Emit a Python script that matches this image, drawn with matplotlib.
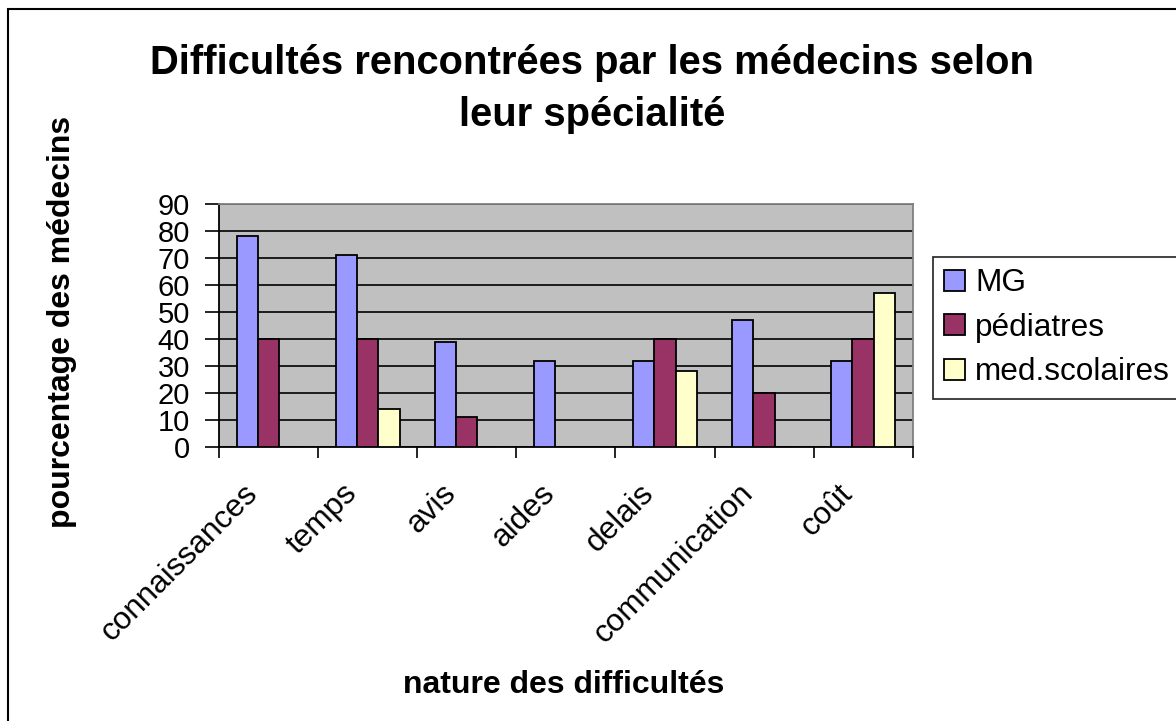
import matplotlib
matplotlib.use("Agg")
import matplotlib.pyplot as plt
import matplotlib.transforms as mtransforms
from matplotlib.patches import Rectangle
import numpy as np

plt.rcParams['font.family'] = ['Liberation Sans', 'DejaVu Sans']

categories = ["connaissances", "temps", "avis", "aides", "delais", "communication", "coût"]
series_names = ["MG", "pédiatres", "med.scolaires"]
mg = [78, 71, 39, 32, 32, 47, 32]
pediatres = [40, 40, 11, 0, 40, 20, 40]
med_scolaires = [0, 14, 0, 0, 28, 0, 57]
yticks = [0, 10, 20, 30, 40, 50, 60, 70, 80, 90]
colors = ["#9999FF", "#993366", "#FFFFCC"]

title = "Difficultés rencontrées par les médecins selon\nleur spécialité"
xlabel = "nature des difficultés"
ylabel = "pourcentage des médecins"

W, H = 1176, 721
fig = plt.figure(figsize=(W / 100, H / 100), dpi=100)
fig.patch.set_facecolor("white")

# outer frame
fig.patches.append(Rectangle((8 / W, -0.1), 1.2, 1 - 9 / H + 0.1, transform=fig.transFigure,
                             fill=False, edgecolor="black", linewidth=1.5))

ax = fig.add_axes([219 / W, 1 - 447 / H, (912.7 - 219) / W, (447 - 204) / H])
ax.set_facecolor("#C0C0C0")

FS = 22.7

x = np.arange(len(categories))
bw = 0.215
data = [mg, pediatres, med_scolaires]
for k, (vals, name, c) in enumerate(zip(data, series_names, colors)):
    ax.bar(x + (k - 1) * bw, vals, width=bw, color=c, edgecolor="black",
           linewidth=1.3, label=name, zorder=3)

ax.set_xlim(-0.5, len(categories) - 0.5)
ax.set_ylim(0, 90)
ax.set_yticks(yticks)
ax.set_yticklabels([str(v) for v in yticks], fontsize=21)
ax.yaxis.grid(True, color="black", linewidth=1.2, zorder=1)
ax.set_axisbelow(True)
ax.tick_params(axis="y", direction="out", length=10, width=1.2, pad=11)

ax.set_xticks(x)
ax.set_xticks(np.arange(-0.5, len(categories), 1.0), minor=True)
ax.tick_params(axis="x", which="major", length=0, pad=14)
ax.tick_params(axis="x", which="minor", direction="out", length=8, width=1.2)
labels = ax.set_xticklabels(categories, fontsize=FS, rotation=45, ha="right",
                            va="top", rotation_mode="anchor")
offset = mtransforms.ScaledTranslation(-0.26, -0.12, fig.dpi_scale_trans)
for lab in labels:
    lab.set_transform(lab.get_transform() + offset)

for s in ["left", "bottom"]:
    ax.spines[s].set_color("black")
    ax.spines[s].set_linewidth(1.3)
for s in ["top", "right"]:
    ax.spines[s].set_color("#808080")
    ax.spines[s].set_linewidth(1.3)

fig.text(592 / W, 1 - 89 / H, title, ha="center", va="center", fontsize=28.85,
         fontweight="bold", linespacing=1.45)
fig.text(564 / W, 1 - 685 / H, xlabel, ha="center", va="center", fontsize=23,
         fontweight="bold")
fig.text(62 / W, 1 - 322 / H, ylabel, ha="center", va="center", fontsize=23,
         fontweight="bold", rotation=90)

leg = fig.legend(loc="upper left", bbox_to_anchor=(932.7 / W, 1 - 257 / H),
                 fontsize=FS, frameon=True, fancybox=False, edgecolor="black",
                 handlelength=0.66, handleheight=0.66, handletextpad=0.32,
                 labelspacing=0.46, borderpad=0.36, borderaxespad=0)
leg.get_frame().set_linewidth(1.3)

fig.savefig("out.png", dpi=100)
